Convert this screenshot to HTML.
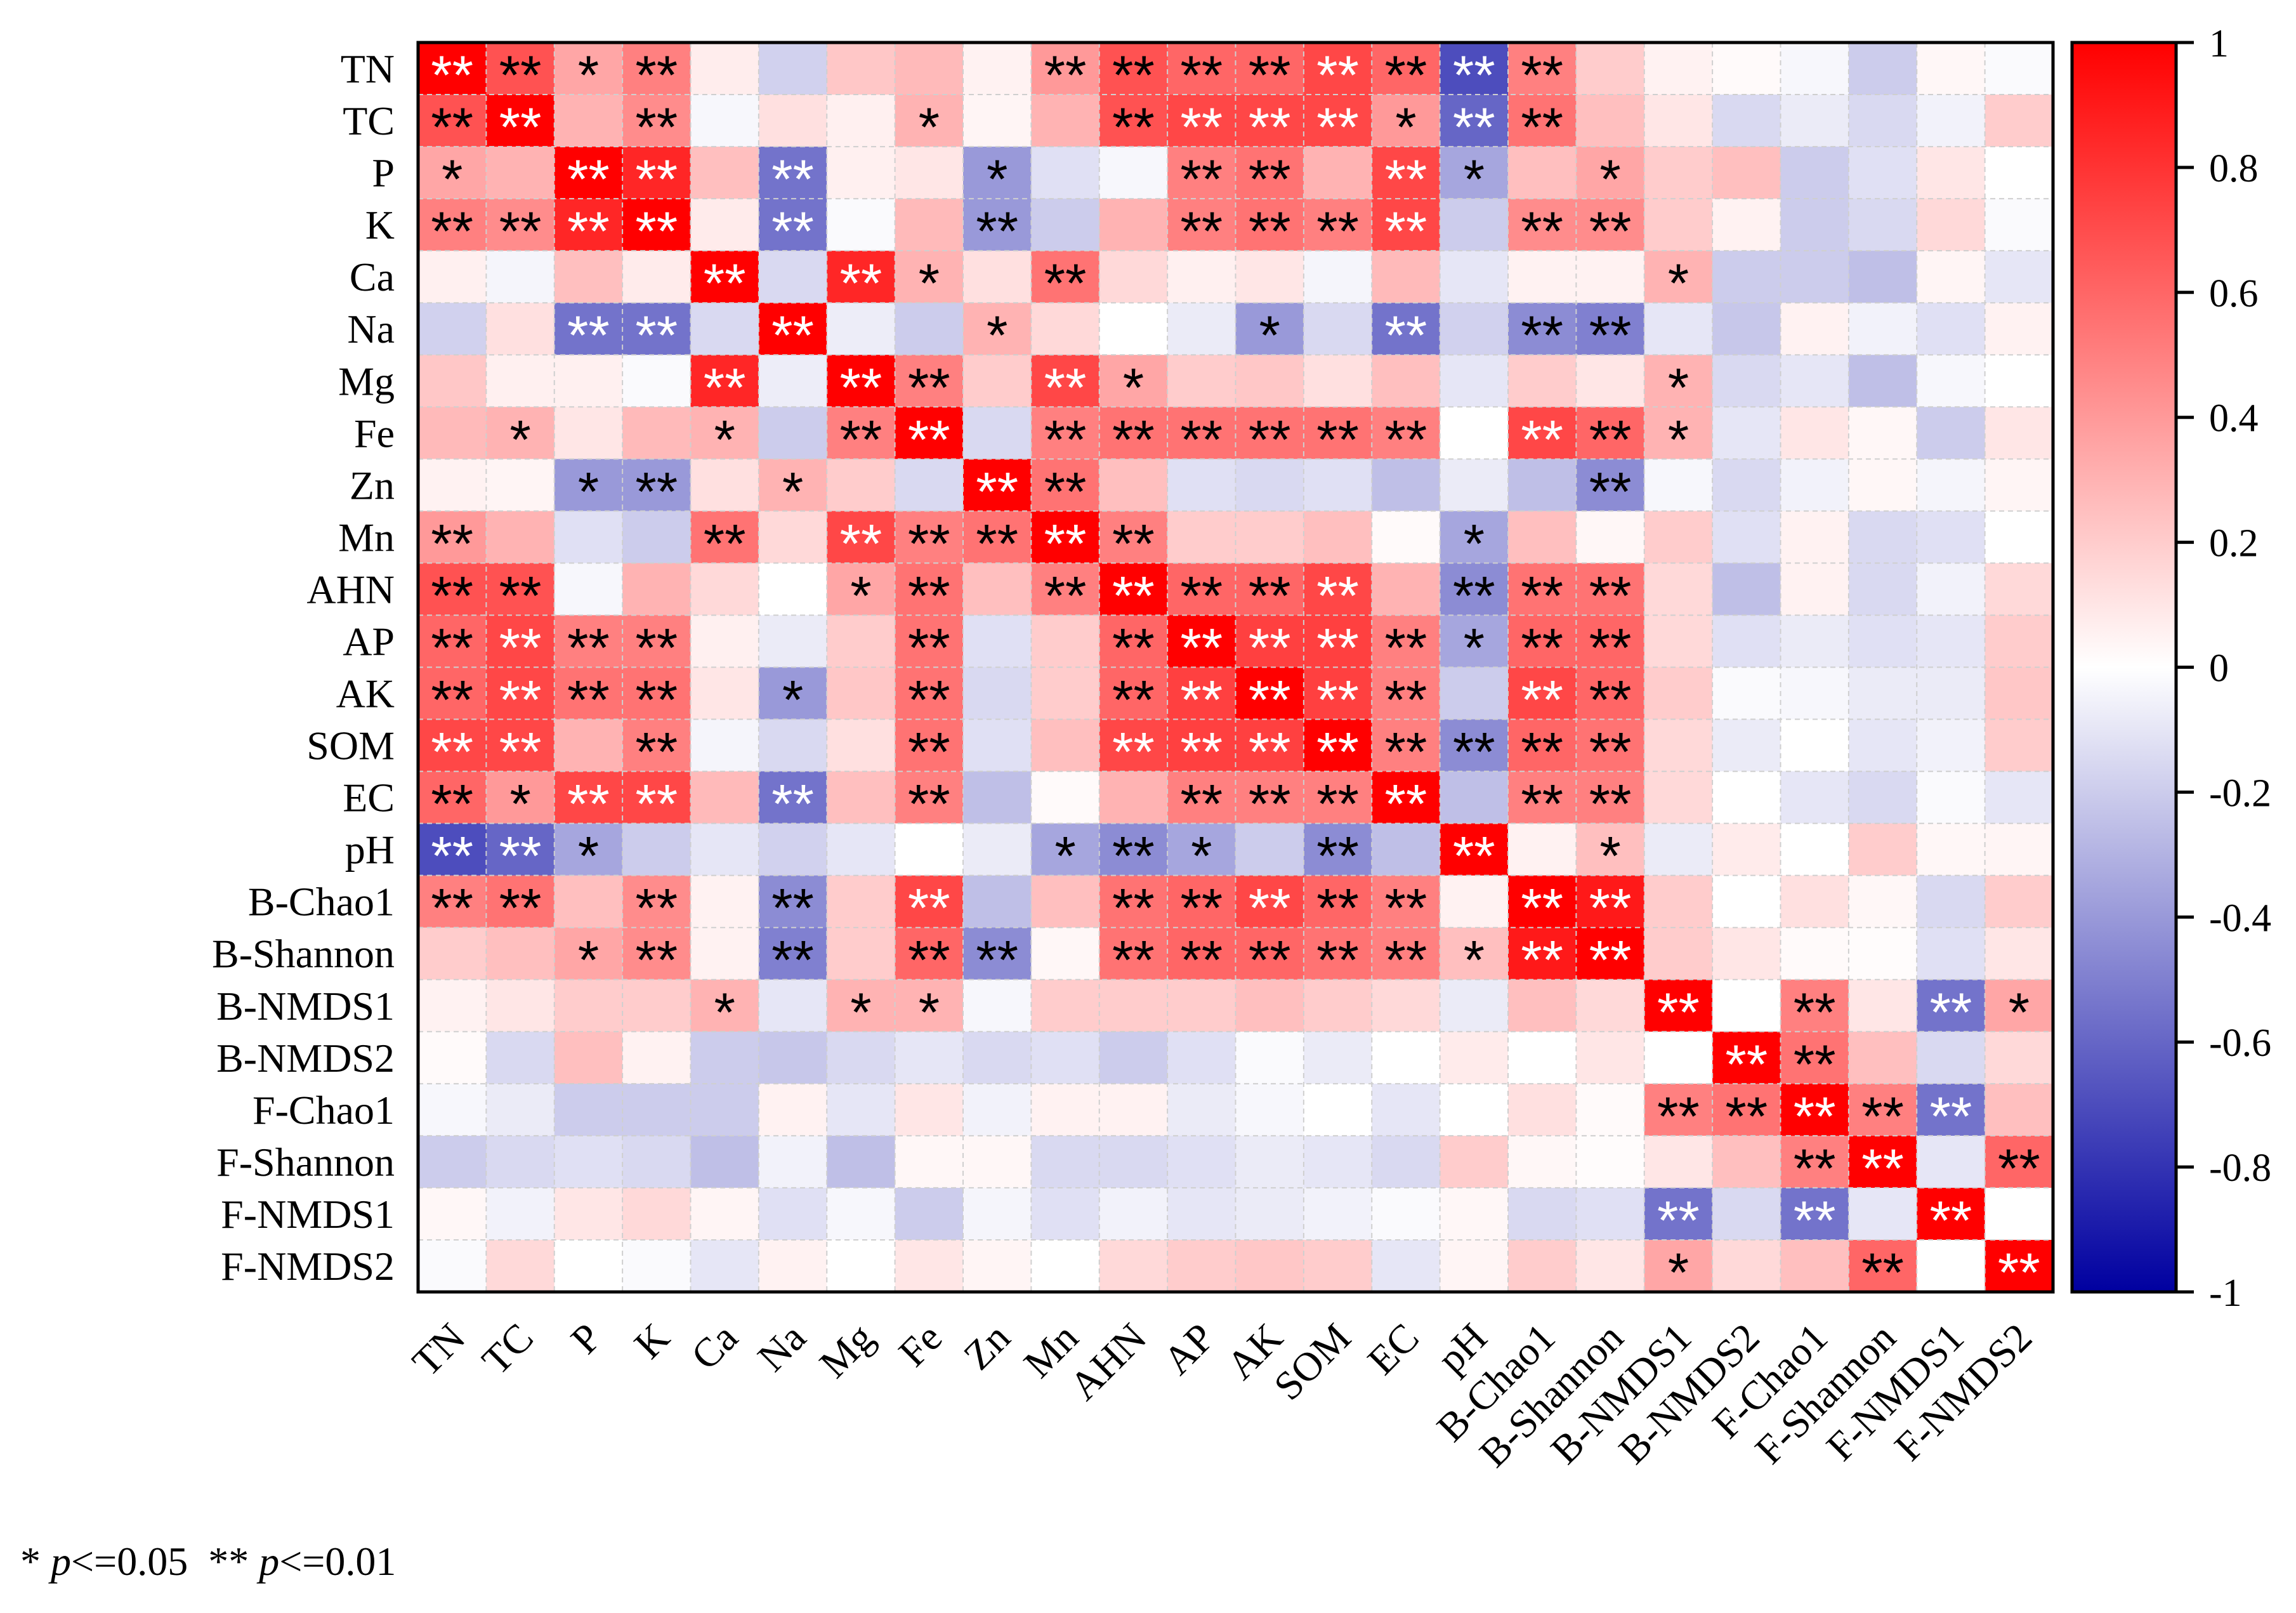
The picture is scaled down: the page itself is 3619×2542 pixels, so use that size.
<!DOCTYPE html>
<html><head><meta charset="utf-8">
<style>
html,body{margin:0;padding:0;background:#fff;}
svg{display:block;font-family:"Liberation Serif",serif;}
</style></head>
<body>
<svg id="chart" width="3619" height="2542" viewBox="0 0 3619 2542" xmlns="http://www.w3.org/2000/svg">
<defs>
<linearGradient id="cbar" x1="0" y1="0" x2="0" y2="1">
<stop offset="0" stop-color="#ff0000"/>
<stop offset="0.5" stop-color="#ffffff"/>
<stop offset="1" stop-color="#0000a0"/>
</linearGradient>
</defs>
<g id="cells"></g>
<g id="grid"></g>
<g id="stars"></g>
<rect x="659" y="67" width="2577" height="1969" fill="none" stroke="#000" stroke-width="5"/>
<g id="ylabels"></g>
<g id="xlabels"></g>
<rect x="3266" y="67" width="164" height="1969" fill="url(#cbar)" stroke="#000" stroke-width="5"/>
<g id="cbticks"></g>
<text x="32" y="2482" font-size="64" xml:space="preserve">* <tspan font-style="italic">p</tspan>&lt;=0.05  ** <tspan font-style="italic">p</tspan>&lt;=0.01</text>
</svg>
<script>
const labels = ["TN","TC","P","K","Ca","Na","Mg","Fe","Zn","Mn","AHN","AP","AK","SOM","EC","pH","B-Chao1","B-Shannon","B-NMDS1","B-NMDS2","F-Chao1","F-Shannon","F-NMDS1","F-NMDS2"];
const rowTN = [1,.68,.35,.5,.07,-.18,.22,.27,.05,.4,.68,.6,.6,.72,.6,-.7,.5,.2,.05,.02,-.03,-.2,.03,-.02];
const rowTC = [.68,1,.3,.45,-.03,.12,.06,.3,.04,.3,.68,.72,.72,.72,.4,-.6,.55,.25,.1,-.15,-.08,-.15,-.05,.2];
const rowP = [.35,.3,1,.85,.25,-.55,.06,.1,-.4,-.12,-.03,.5,.55,.3,.72,-.35,.25,.35,.2,.25,-.2,-.12,.1,0];
const rowK = [.5,.45,.85,1,.08,-.55,-.02,.27,-.4,-.2,.3,.5,.55,.5,.72,-.2,.45,.45,.2,.05,-.2,-.15,.15,-.02];
const rowCa = [.06,-.04,.25,.08,1,-.15,.85,.3,.12,.55,.15,.06,.1,-.04,.27,-.1,.05,.05,.3,-.2,-.2,-.25,.04,-.1];
const rowNa = [-.18,.12,-.55,-.55,-.15,1,-.07,-.2,.3,.15,0,-.08,-.4,-.15,-.55,-.18,-.45,-.5,-.1,-.22,.05,-.05,-.12,.05];
const rowMg = [.22,.06,.06,-.02,.85,-.07,1,.5,.2,.72,.35,.2,.22,.12,.25,-.1,.2,.1,.3,-.15,-.1,-.25,-.03,0];
const rowFe = [.27,.3,.1,.27,.3,-.2,.5,1,-.15,.5,.55,.55,.55,.55,.5,0,.72,.6,.3,-.1,.1,.03,-.2,.1];
const rowZn = [.05,.04,-.4,-.4,.12,.3,.2,-.15,1,.55,.25,-.12,-.15,-.12,-.25,-.08,-.25,-.45,-.03,-.15,-.05,.03,-.04,.04];
const rowMn = [.4,.3,-.12,-.2,.55,.15,.72,.5,.55,1,.5,.2,.2,.25,.02,-.35,.25,.03,.2,-.12,.05,-.15,-.12,0];
const rowAHN = [.68,.68,-.03,.3,.15,0,.35,.55,.25,.5,1,.6,.6,.72,.3,-.45,.55,.55,.15,-.25,.05,-.15,-.05,.15];
const rowAP = [.6,.72,.5,.5,.06,-.08,.2,.55,-.12,.2,.6,1,.75,.75,.5,-.35,.6,.6,.15,-.12,-.08,-.12,-.1,.2];
const rowAK = [.6,.72,.55,.55,.1,-.4,.22,.55,-.15,.2,.6,.75,1,.75,.5,-.2,.72,.6,.2,-.02,-.03,-.08,-.08,.22];
const rowSOM = [.72,.72,.3,.5,-.04,-.15,.12,.55,-.12,.25,.72,.75,.75,1,.5,-.45,.6,.55,.15,-.08,0,-.1,-.05,.2];
const rowEC = [.6,.4,.72,.72,.27,-.55,.25,.5,-.25,.02,.3,.5,.5,.5,1,-.25,.5,.5,.15,0,-.1,-.15,-.02,-.1];
const rowpH = [-.7,-.6,-.35,-.2,-.1,-.18,-.1,0,-.08,-.35,-.45,-.35,-.2,-.45,-.25,1,.05,.25,-.08,.08,0,.2,.03,.04];
const rowBChao1 = [.5,.55,.25,.45,.05,-.45,.2,.72,-.25,.25,.55,.6,.72,.6,.5,.05,1,.9,.2,0,.12,.03,-.15,.2];
const rowBShannon = [.2,.25,.35,.45,.05,-.5,.2,.6,-.45,.03,.55,.6,.6,.55,.5,.25,.9,1,.2,.1,.02,.01,-.12,.1];
const rowBNMDS1 = [.05,.1,.2,.2,.3,-.1,.3,.3,-.03,.2,.2,.2,.25,.2,.15,-.08,.25,.15,1,0,.5,.1,-.55,.35];
const rowBNMDS2 = [.02,-.15,.25,.05,-.2,-.22,-.15,-.1,-.15,-.12,-.2,-.12,-.02,-.08,0,.08,0,.1,0,1,.55,.25,-.15,.15];
const rowFChao1 = [-.03,-.08,-.2,-.2,-.2,.05,-.1,.1,-.05,.05,.05,-.08,-.03,0,-.1,0,.12,.02,.5,.55,1,.5,-.55,.25];
const rowFShannon = [-.2,-.15,-.12,-.15,-.25,-.05,-.25,.03,.03,-.15,-.15,-.12,-.08,-.1,-.15,.2,.03,.01,.1,.25,.5,1,-.1,.6];
const rowFNMDS1 = [.03,-.05,.1,.15,.04,-.12,-.03,-.2,-.04,-.12,-.05,-.1,-.08,-.05,-.02,.03,-.15,-.12,-.55,-.15,-.55,-.1,1,0];
const rowFNMDS2 = [-.02,.15,0,-.02,-.1,.05,0,.1,.04,0,.15,.2,.22,.2,-.1,.04,.2,.1,.35,.15,.25,.6,0,1];
const values = [rowTN,rowTC,rowP,rowK,rowCa,rowNa,rowMg,rowFe,rowZn,rowMn,rowAHN,rowAP,rowAK,rowSOM,rowEC,rowpH,rowBChao1,rowBShannon,rowBNMDS1,rowBNMDS2,rowFChao1,rowFShannon,rowFNMDS1,rowFNMDS2];
const signif = [
"221200000222222220000000",
"220200010022221220000000",
"102202001002202101000000",
"222202002002222022000000",
"000020210200000000100000",
"002202001000102022000000",
"000020220210000000100000",
"010010220222222022100000",
"001201002200000002000000",
"200020222220000100000000",
"220000120222220222000000",
"222200020022222122000000",
"222201020022222022000000",
"220200020022222222000000",
"212202020002222022000000",
"221000000121020201000000",
"220202020022222022000000",
"001202022022222122000000",
"000010110000000000202021",
"000000000000000000022000",
"000000000000000000222220",
"000000000000000000002202",
"000000000000000000202020",
"000000000000000000100202"];
const cbTicks = [1,0.8,0.6,0.4,0.2,0,-0.2,-0.4,-0.6,-0.8,-1];
const cbTickLabels = ["1","0.8","0.6","0.4","0.2","0","-0.2","-0.4","-0.6","-0.8","-1"];

const NS='http://www.w3.org/2000/svg';
const X0=659,Y0=67,W=2577,H=1969,n=labels.length,cw=W/n,ch=H/n;
const xPos=i=>X0+i*cw, yPos=j=>Y0+j*ch;
const cbY=v=>Y0+(1-v)/2*H;
function color(v){
  let r,g,b;
  if(v>=0){r=255;g=Math.round(255*(1-v));b=g;}
  else{const t=-v;r=Math.round(255*(1-t));g=r;b=Math.round(255-95*t);}
  return `rgb(${r},${g},${b})`;
}
function mk(tag,attrs,parent){const e=document.createElementNS(NS,tag);for(const k in attrs)e.setAttribute(k,attrs[k]);parent.appendChild(e);return e;}
const gC=document.getElementById('cells'),gG=document.getElementById('grid'),gS=document.getElementById('stars');
values.forEach((row,j)=>row.forEach((v,i)=>{
  const r=mk('rect',{x:xPos(i),y:yPos(j),width:cw+0.5,height:ch+0.5,fill:color(v)},gC);
  
  
  const s=+signif[j][i];
  if(s>0){
    const white=(v>0.69||v<-0.52);
    const t=mk('text',{x:xPos(i)+cw/2,y:yPos(j)+ch/2+40,'text-anchor':'middle','font-size':86,'font-family':'"Liberation Sans",sans-serif',fill:white?'#fff':'#000'},gS);
    t.textContent=s===2?'**':'*';
    
    
  }
}));
for(let k=1;k<n;k++){
  const l1=mk('line',{x1:xPos(k),y1:Y0,x2:xPos(k),y2:Y0+H,stroke:'#cfcfcf','stroke-width':2,'stroke-dasharray':'8,6'},gG);
  
  
  const l2=mk('line',{x1:X0,y1:yPos(k),x2:X0+W,y2:yPos(k),stroke:'#cfcfcf','stroke-width':2,'stroke-dasharray':'8,6'},gG);
  
  
}
const gY=document.getElementById('ylabels'),gX=document.getElementById('xlabels');
labels.forEach((lb,j)=>{
  const t=mk('text',{x:622,y:yPos(j)+ch/2+22,'text-anchor':'end','font-size':64},gY);
  t.textContent=lb;
  
  
  const cx=xPos(j)+cw/2+24,cy=2112;
  const u=mk('text',{x:cx,y:cy,'text-anchor':'end','font-size':64,transform:`rotate(-45 ${cx} ${cy})`},gX);
  u.textContent=lb;
  
  
});
const gT=document.getElementById('cbticks');
cbTicks.forEach((v,k)=>{
  const y=cbY(v);
  const l=mk('line',{x1:3430,y1:y,x2:3458,y2:y,stroke:'#000','stroke-width':5},gT);
  
  
  const t=mk('text',{x:3482,y:y+22,'font-size':62},gT);
  t.textContent=cbTickLabels[k];
  
  
});
</script>
</body></html>
